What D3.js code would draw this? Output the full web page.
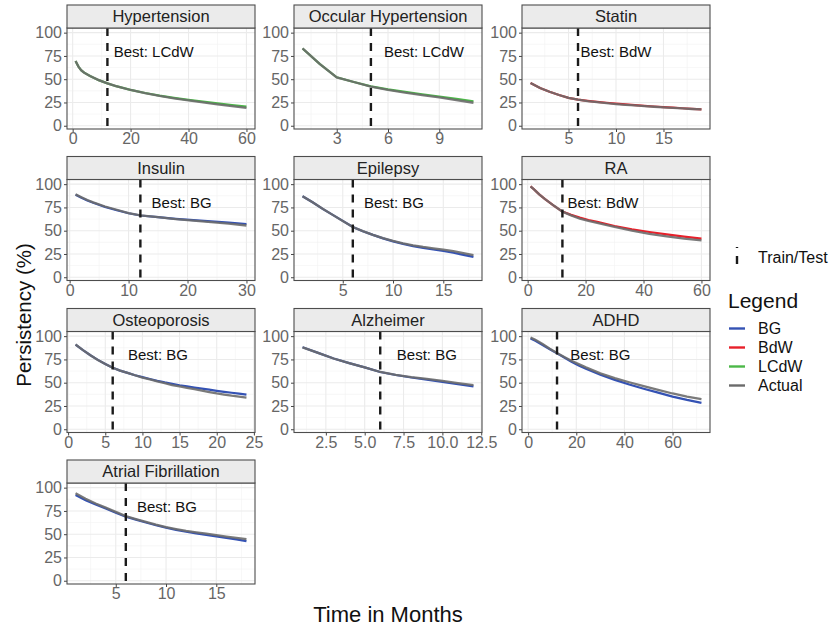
<!DOCTYPE html>
<html>
<head>
<meta charset="utf-8">
<script src="https://cdnjs.cloudflare.com/ajax/libs/d3/7.8.5/d3.min.js"></script>
<style>
  body { margin: 0; background: #fff; }
  text { font-family: "Liberation Sans", Arial, sans-serif; }
  .tick text { fill: #666; font-size: 16px; }
  .tick line { stroke: #444; }
  .strip { font-size: 16.5px; fill: #222; }
  .best { font-size: 15px; fill: #111; }
</style>
</head>
<body>
<svg id="chart" width="831" height="630"></svg>
<script>
// panels, in facet order
var drugs = ["Hypertension", "Occular Hypertension", "Statin", "Insulin", "Epilepsy", "RA",
             "Osteoporosis", "Alzheimer", "ADHD", "Atrial Fibrillation"];
var bestModel = ["LCdW", "LCdW", "BdW", "BG", "BG", "BdW", "BG", "BG", "BG", "BG"];
var splitMonth = [12, 5, 6, 12, 6, 12, 6, 6, 12, 6];
var labelMonth = [28, 8.1, 10, 19, 10.1, 26, 12.1, 9, 30, 10.1];
var xTickValues = [[0, 20, 40, 60], [3, 6, 9], [5, 10, 15], [0, 10, 20, 30], [5, 10, 15],
                   [0, 20, 40, 60], [0, 5, 10, 15, 20, 25], [2.5, 5, 7.5, 10, 12.5],
                   [0, 20, 40, 60], [5, 10, 15]];
var yTickValues = [0, 25, 50, 75, 100];

var models = ["BG", "BdW", "LCdW", "Actual"];
var modelColors = ["#3452b4", "#e8202a", "#4cb848", "#6b6b6b"];

// persistency (%)
var hypMonths = [1, 2, 3, 4, 6, 9, 12, 15, 20, 25, 30, 35, 40, 45, 50, 55, 60];
var hypActual = [69.5, 63.5, 59.5, 57, 53.5, 49, 45.5, 42.5, 38.4, 35, 32, 29.5, 27.3, 25.2, 23, 21, 19.2];
var hypBest   = [69.5, 63.5, 59.5, 57, 53.5, 49, 45.5, 42.5, 38.5, 35.2, 32.3, 29.9, 27.8, 25.9, 24, 22.2, 20.6];

var ocuMonths = [1, 2, 3, 4, 5, 6, 7, 8, 9, 10, 11];
var ocuActual = [83, 66.5, 52, 47, 42, 38.5, 35.5, 33, 30.5, 27.5, 24.7];
var ocuBest   = [83, 66.5, 52, 47, 42.3, 39, 36.3, 33.8, 31.4, 28.9, 26.3];

var staMonths = [1, 2, 3, 4, 5, 6, 7, 8, 9, 10, 11, 12, 13, 14, 15, 16, 17, 18, 19];
var staActual = [46, 40.5, 36.5, 33, 30, 28, 26.5, 25.3, 24.3, 23.3, 22.5, 21.8, 21, 20.4, 19.8, 19.2, 18.6, 18, 17.5];
var staBest   = [46, 40.5, 36.5, 33, 30, 28, 26.8, 25.7, 24.7, 23.8, 23, 22.2, 21.4, 20.7, 20.1, 19.4, 18.8, 18.2, 17.6];

var insMonths = [1, 2, 3, 4, 6, 8, 10, 12, 15, 18, 21, 24, 27, 30];
var insActual = [89, 86, 83, 80.5, 76, 72.5, 69, 66.5, 64.5, 62.5, 60.8, 59.3, 57.5, 55.6];
var insBest   = [88.5, 85.5, 82.5, 80, 75.5, 72, 68.7, 66.3, 64.5, 62.8, 61.3, 60, 58.6, 57.2];

var epiMonths = [1, 2, 3, 4, 5, 6, 7, 8, 9, 10, 11, 12, 13, 14, 15, 16, 17, 18];
var epiActual = [87, 80.5, 73.5, 67, 60.5, 54, 49.5, 45.5, 42, 39, 36.5, 34.3, 32.5, 31, 29.6, 28, 26, 23.8];
var epiBest   = [87, 80.5, 73.5, 67, 60.5, 54, 49.5, 45.5, 41.8, 38.5, 35.8, 33.5, 31.5, 29.8, 28.2, 26.3, 24, 21.8];

var raMonths = [1, 2, 3, 4, 6, 9, 12, 15, 18, 21, 24, 30, 36, 42, 48, 54, 60];
var raActual = [97.5, 95, 92, 89, 84, 77, 70.5, 66.5, 63, 60.5, 58.3, 54, 50, 46.5, 44, 41.5, 39.6];
var raBest   = [97.5, 95, 92, 89, 84, 77, 70.5, 67, 64, 61.5, 59.5, 55, 51.5, 48.6, 46, 43.6, 41.5];

var ostMonths = [1, 2, 3, 4, 5, 6, 7, 8, 9, 10, 11, 12, 13, 14, 15, 16, 17, 18, 19, 20, 21, 22, 23, 24];
var ostActual = [91, 85, 79.5, 74.5, 70, 66, 63, 60.5, 58, 55.5, 53.5, 51.5, 49.5, 47.5, 46, 44.5, 43, 41.5, 40, 38.5, 37.2, 36, 35, 33.9];
var ostBest   = [91, 85, 79.5, 74.5, 70, 66, 63, 60.5, 58, 56, 54, 52, 50.3, 48.8, 47.3, 46, 44.8, 43.6, 42.5, 41.3, 40.2, 39.2, 38.2, 37.2];

var alzMonths = [1, 2, 3, 4, 5, 6, 7, 8, 9, 10, 11, 12];
var alzActual = [88, 82, 76, 71, 66.5, 61.5, 58.5, 56, 54, 52, 49.5, 47.3];
var alzBest   = [88, 82, 76, 71, 66.5, 61.5, 58.3, 55.6, 53.3, 50.8, 48.3, 46];

var adhMonths = [1, 3, 6, 9, 12, 15, 18, 21, 24, 30, 36, 42, 48, 54, 60, 66, 72];
var adhActual = [98.5, 96, 91.5, 86.5, 82, 77.5, 73.5, 70, 66.5, 60, 55, 50.5, 46.3, 42.3, 38.4, 35.1, 32.4];
var adhBest   = [97.5, 95, 90.5, 86, 81.5, 77, 72.5, 68.5, 65, 58.5, 53, 48, 43.5, 39.3, 35, 31.5, 28.4];

var afiMonths = [1, 2, 3, 4, 5, 6, 7, 8, 9, 10, 11, 12, 13, 14, 15, 16, 17, 18];
var afiActual = [94, 88, 83, 78.5, 74, 69.5, 66.3, 63.3, 60.3, 57.6, 55.5, 53.5, 52, 50.5, 49, 47.5, 46, 44.6];
var afiBest   = [92, 86.5, 82, 77.5, 73, 68.8, 65.6, 62.5, 59.6, 57, 54.7, 52.6, 50.9, 49.3, 47.7, 46.1, 44.4, 42.6];

var allMonths = [hypMonths, ocuMonths, staMonths, insMonths, epiMonths, raMonths, ostMonths, alzMonths, adhMonths, afiMonths];
var allActual = [hypActual, ocuActual, staActual, insActual, epiActual, raActual, ostActual, alzActual, adhActual, afiActual];
var allBest   = [hypBest, ocuBest, staBest, insBest, epiBest, raBest, ostBest, alzBest, adhBest, afiBest];

// layout
var colX = [67, 294, 522],
    rowY = [28, 179.5, 331.5, 483],
    panelW = 188,
    panelH = 101,
    stripH = 23;

var svg = d3.select("#chart");
var color = d3.scaleOrdinal().domain(models).range(modelColors);
var line = d3.line();

drugs.forEach(function(name, i) {
    var x0 = colX[i % 3], y0 = rowY[Math.floor(i / 3)];
    var months = allMonths[i];
    var lo = d3.min(months), hi = d3.max(months), pad = (hi - lo) * 0.05;

    var x = d3.scaleLinear().domain([lo - pad, hi + pad]).range([x0, x0 + panelW]);
    var y = d3.scaleLinear().domain([-3.5, 105]).range([y0 + panelH, y0]);

    var g = svg.append("g");
    g.append("rect")
        .attr("x", x0).attr("y", y0).attr("width", panelW).attr("height", panelH)
        .attr("fill", "#fff");

    // minor grid
    var xt = xTickValues[i], step = xt[1] - xt[0];
    var xMinor = [];
    for (var v = xt[0] - step / 2; v <= hi + pad; v += step) {
        if (v >= lo - pad) xMinor.push(v);
    }
    var yMinor = [12.5, 37.5, 62.5, 87.5];
    g.selectAll(".xminor").data(xMinor).enter().append("line")
        .attr("x1", function(d) { return x(d); }).attr("x2", function(d) { return x(d); })
        .attr("y1", y0).attr("y2", y0 + panelH)
        .attr("stroke", "#f2f2f2").attr("stroke-width", 0.6);
    g.selectAll(".yminor").data(yMinor).enter().append("line")
        .attr("x1", x0).attr("x2", x0 + panelW)
        .attr("y1", function(d) { return y(d); }).attr("y2", function(d) { return y(d); })
        .attr("stroke", "#f2f2f2").attr("stroke-width", 0.6);
    // major grid
    g.selectAll(".xmajor").data(xt).enter().append("line")
        .attr("x1", function(d) { return x(d); }).attr("x2", function(d) { return x(d); })
        .attr("y1", y0).attr("y2", y0 + panelH)
        .attr("stroke", "#ebebeb").attr("stroke-width", 1.1);
    g.selectAll(".ymajor").data(yTickValues).enter().append("line")
        .attr("x1", x0).attr("x2", x0 + panelW)
        .attr("y1", function(d) { return y(d); }).attr("y2", function(d) { return y(d); })
        .attr("stroke", "#ebebeb").attr("stroke-width", 1.1);

    // best model then actual on top
    line.x(function(d) { return x(d[0]); }).y(function(d) { return y(d[1]); });
    var bestPts = months.map(function(m, k) { return [m, allBest[i][k]]; });
    var actPts = months.map(function(m, k) { return [m, allActual[i][k]]; });
    g.append("path")
        .attr("d", line(bestPts))
        .attr("fill", "none")
        .attr("stroke", color(bestModel[i]))
        .attr("stroke-width", 2.2);
    g.append("path")
        .attr("d", line(actPts))
        .attr("fill", "none")
        .attr("stroke", color("Actual"))
        .attr("stroke-opacity", 0.9)
        .attr("stroke-width", 2.3);

    // train/test split
    g.append("line")
        .attr("x1", x(splitMonth[i])).attr("x2", x(splitMonth[i]))
        .attr("y1", y0).attr("y2", y0 + panelH)
        .attr("stroke", "#1a1a1a").attr("stroke-width", 2.4)
        .attr("stroke-dasharray", "8,7");

    g.append("text")
        .attr("class", "best")
        .attr("x", x(labelMonth[i])).attr("y", y(80))
        .attr("dy", "0.35em")
        .attr("text-anchor", "middle")
        .text("Best: " + bestModel[i]);

    // axes
    var ya = g.append("g").attr("transform", "translate(" + x0 + ",0)")
        .call(d3.axisLeft(y).tickValues(yTickValues).tickSize(3).tickPadding(2));
    var xa = g.append("g").attr("transform", "translate(0," + (y0 + panelH) + ")")
        .call(d3.axisBottom(x).tickValues(xt).tickSize(3).tickPadding(1)
            .tickFormat(function(d) { return step === 2.5 ? d3.format(".1f")(d) : d; }));
    ya.select(".domain").remove();
    xa.select(".domain").remove();
    ya.selectAll("text").attr("font-family", null).attr("font-size", null);
    xa.selectAll("text").attr("font-family", null).attr("font-size", null);

    g.append("rect")
        .attr("x", x0).attr("y", y0).attr("width", panelW).attr("height", panelH)
        .attr("fill", "none").attr("stroke", "#4d4d4d").attr("stroke-width", 1.1);

    // strip
    g.append("rect")
        .attr("x", x0).attr("y", y0 - stripH).attr("width", panelW).attr("height", stripH)
        .attr("fill", "#ebebeb").attr("stroke", "#4d4d4d").attr("stroke-width", 1.1);
    g.append("text")
        .attr("class", "strip")
        .attr("x", x0 + panelW / 2).attr("y", y0 - stripH / 2)
        .attr("dy", "0.36em")
        .attr("text-anchor", "middle")
        .text(name);
});

// axis titles
svg.append("text")
    .attr("transform", "translate(31, 315) rotate(-90)")
    .attr("text-anchor", "middle")
    .attr("font-size", 20.5)
    .attr("fill", "#111")
    .text("Persistency (%)");
svg.append("text")
    .attr("x", 388).attr("y", 622)
    .attr("text-anchor", "middle")
    .attr("font-size", 22)
    .attr("fill", "#111")
    .text("Time in Months");

// legend
var leg = svg.append("g");
leg.append("line")
    .attr("x1", 737).attr("x2", 737).attr("y1", 247).attr("y2", 265)
    .attr("stroke", "#1a1a1a").attr("stroke-width", 2.4)
    .attr("stroke-dasharray", "8,8").attr("stroke-dashoffset", 7);
leg.append("text")
    .attr("x", 758).attr("y", 257).attr("dy", "0.35em")
    .attr("font-size", 16).attr("fill", "#111")
    .text("Train/Test");
leg.append("text")
    .attr("x", 728).attr("y", 301).attr("dy", "0.35em")
    .attr("font-size", 21).attr("fill", "#111")
    .text("Legend");
models.forEach(function(m, k) {
    var yy = 328.5 + k * 19;
    leg.append("line")
        .attr("x1", 729).attr("x2", 745).attr("y1", yy).attr("y2", yy)
        .attr("stroke", color(m)).attr("stroke-width", 2.4);
    leg.append("text")
        .attr("x", 758).attr("y", yy).attr("dy", "0.35em")
        .attr("font-size", 16).attr("fill", "#111")
        .text(m);
});
</script>
</body>
</html>
